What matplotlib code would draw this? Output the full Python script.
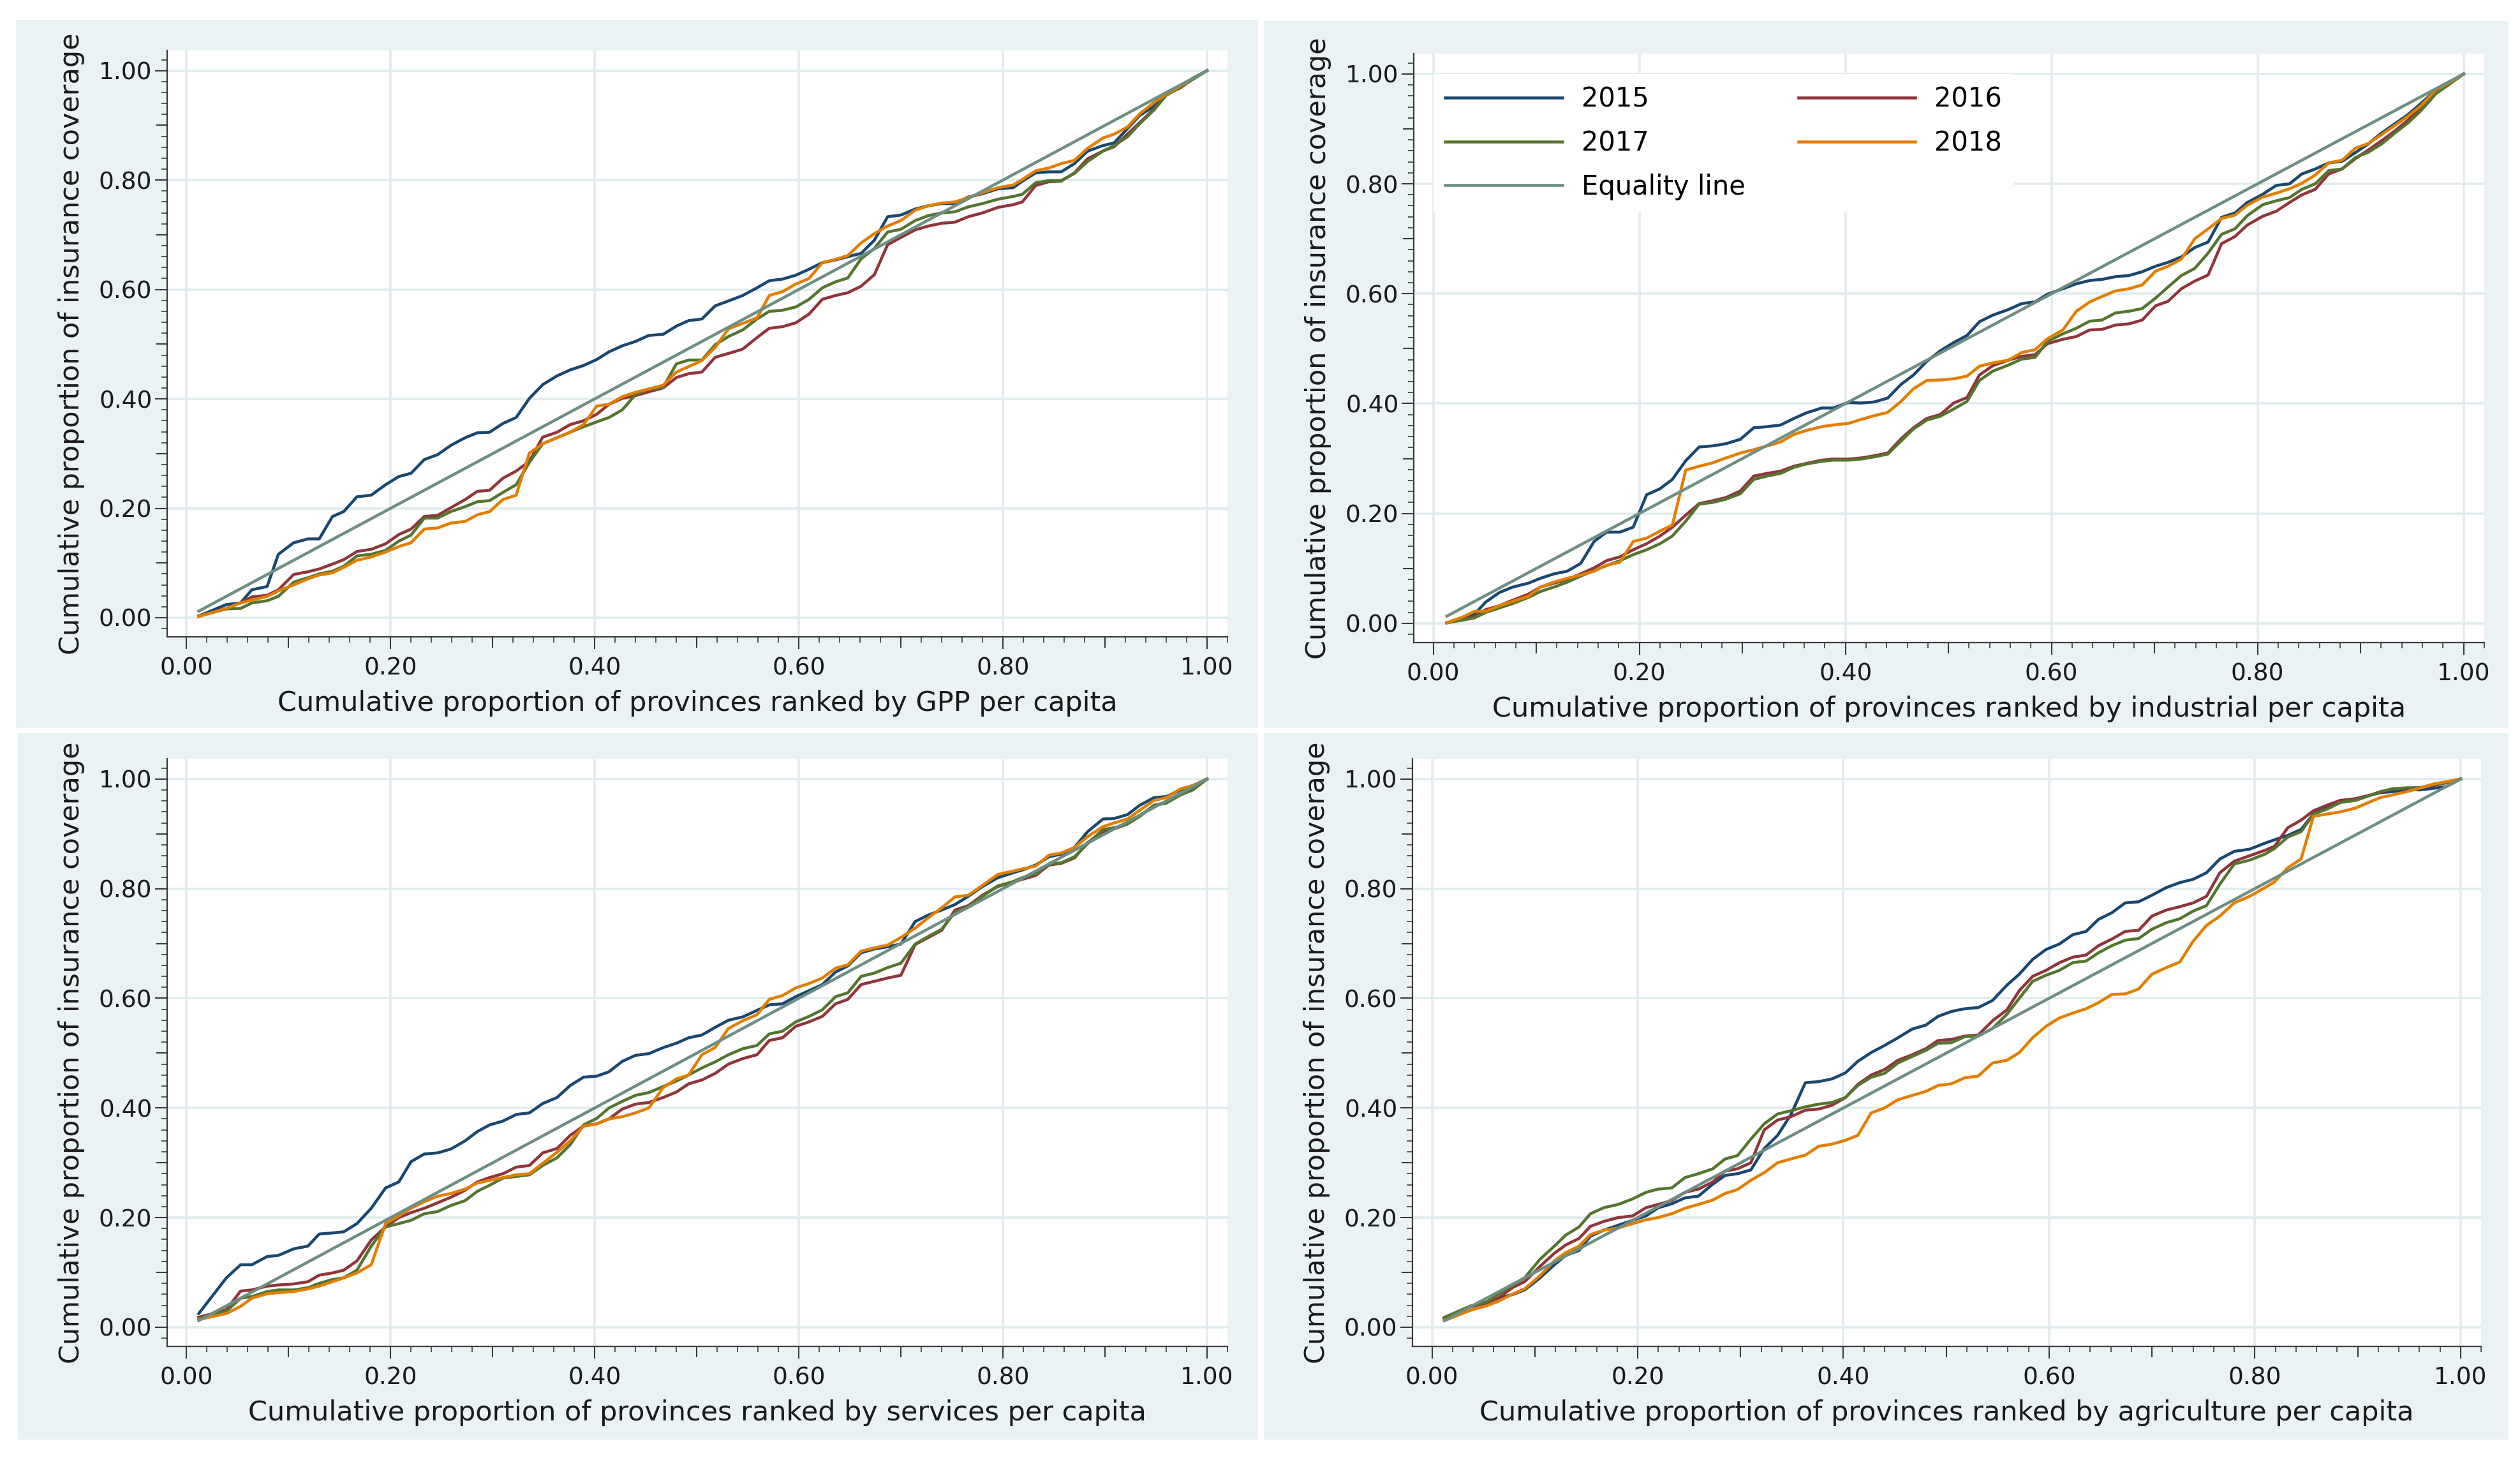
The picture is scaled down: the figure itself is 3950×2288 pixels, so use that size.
import matplotlib

matplotlib.use("Agg")
import matplotlib.pyplot as plt
from matplotlib.patches import Rectangle
from matplotlib.ticker import FormatStrFormatter, MultipleLocator


FIG_W, FIG_H = 3950, 2288
DPI = 100

BG_COLOR = "#EAF2F3"
GRID_COLOR = "#E2ECEE"
AXIS_COLOR = "#3A3A3A"
YEAR_COLORS = ["#1A476F", "#90353B", "#55752F", "#E37E00"]
EQUALITY_COLOR = "#6E8E84"
YEARS = ["2015", "2016", "2017", "2018"]
Y_LABEL = "Cumulative proportion of insurance coverage"

# ranked cumulative share of provinces (GPP, services, agriculture panels)
X_RANK = [0.012, 0.039, 0.053, 0.064, 0.079, 0.090, 0.105, 0.119, 0.130, 0.143, 0.154, 0.167, 0.181, 0.195,
          0.208, 0.220, 0.233, 0.246, 0.259, 0.273, 0.285, 0.297, 0.310, 0.323, 0.336, 0.349, 0.363, 0.376,
          0.389, 0.402, 0.414, 0.427, 0.440, 0.453, 0.467, 0.480, 0.492, 0.505, 0.518, 0.531, 0.545,
          0.559, 0.571, 0.584, 0.597, 0.610, 0.623, 0.636, 0.648, 0.661, 0.674, 0.687, 0.700, 0.714, 0.727,
          0.740, 0.753, 0.766, 0.780, 0.795, 0.810, 0.819, 0.832, 0.845, 0.857, 0.870, 0.883, 0.898, 0.909,
          0.922, 0.934, 0.948, 0.960, 0.974, 0.986, 1.000]

# ranked cumulative share of provinces (industrial panel)
X_RANK_IND = [0.013, 0.029, 0.040, 0.051, 0.064, 0.077, 0.092, 0.104, 0.117, 0.130, 0.143, 0.156, 0.168, 0.181,
              0.194, 0.207, 0.220, 0.232, 0.245, 0.258, 0.271, 0.284, 0.298, 0.311, 0.324, 0.337, 0.350, 0.362,
              0.377, 0.388, 0.403, 0.415, 0.428, 0.441,
              0.454, 0.466, 0.479, 0.492, 0.505, 0.518, 0.530, 0.543, 0.558, 0.571, 0.584, 0.596, 0.611, 0.624,
              0.637, 0.649, 0.662, 0.675, 0.688, 0.701, 0.713, 0.726, 0.739, 0.752, 0.765, 0.778, 0.790, 0.805,
              0.818, 0.831, 0.843, 0.856, 0.869, 0.882, 0.895, 0.907, 0.920, 0.933, 0.946, 0.959, 0.973, 0.986,
              1.000]

GPP_2015 = [0.003, 0.024, 0.027, 0.051, 0.057, 0.116, 0.137, 0.144, 0.144, 0.185, 0.194, 0.221, 0.224, 0.243,
            0.258, 0.264, 0.289, 0.298, 0.315, 0.329, 0.338, 0.339, 0.355, 0.366, 0.401, 0.426, 0.442, 0.453,
            0.461, 0.472, 0.486, 0.497, 0.505, 0.516, 0.518, 0.533, 0.543, 0.546, 0.570, 0.579, 0.589,
            0.603, 0.616, 0.619, 0.626, 0.637, 0.649, 0.654, 0.660, 0.666, 0.690, 0.733, 0.736, 0.747, 0.753,
            0.757, 0.757, 0.769, 0.775, 0.784, 0.786, 0.798, 0.813, 0.815, 0.815, 0.830, 0.853, 0.863, 0.868,
            0.894, 0.918, 0.935, 0.957, 0.969, 0.986, 1.000]
GPP_2016 = [0.003, 0.017, 0.027, 0.038, 0.041, 0.051, 0.079, 0.084, 0.089, 0.098, 0.106, 0.121, 0.125, 0.135,
            0.152, 0.162, 0.185, 0.187, 0.201, 0.216, 0.231, 0.233, 0.255, 0.268, 0.286, 0.330, 0.339, 0.353,
            0.360, 0.372, 0.390, 0.401, 0.406, 0.413, 0.420, 0.439, 0.446, 0.449, 0.476, 0.483, 0.491,
            0.512, 0.529, 0.532, 0.539, 0.555, 0.582, 0.589, 0.594, 0.606, 0.627, 0.682, 0.695, 0.709, 0.716,
            0.721, 0.723, 0.733, 0.740, 0.750, 0.755, 0.760, 0.790, 0.797, 0.798, 0.813, 0.839, 0.853, 0.861,
            0.884, 0.905, 0.930, 0.957, 0.969, 0.985, 1.000]
GPP_2017 = [0.003, 0.016, 0.017, 0.027, 0.031, 0.039, 0.065, 0.073, 0.080, 0.085, 0.094, 0.113, 0.116, 0.123,
            0.140, 0.151, 0.182, 0.182, 0.194, 0.203, 0.212, 0.214, 0.229, 0.243, 0.284, 0.318, 0.329, 0.339,
            0.349, 0.358, 0.366, 0.380, 0.408, 0.418, 0.421, 0.464, 0.471, 0.471, 0.499, 0.514, 0.526,
            0.546, 0.560, 0.562, 0.568, 0.582, 0.603, 0.614, 0.621, 0.656, 0.675, 0.705, 0.710, 0.726, 0.735,
            0.740, 0.742, 0.751, 0.757, 0.765, 0.770, 0.774, 0.795, 0.799, 0.799, 0.812, 0.834, 0.853, 0.863,
            0.879, 0.903, 0.928, 0.955, 0.970, 0.984, 1.000]
GPP_2018 = [0.002, 0.017, 0.027, 0.032, 0.039, 0.049, 0.060, 0.071, 0.078, 0.082, 0.092, 0.105, 0.111, 0.120,
            0.130, 0.137, 0.162, 0.164, 0.173, 0.176, 0.188, 0.194, 0.216, 0.224, 0.301, 0.318, 0.329, 0.339,
            0.353, 0.387, 0.390, 0.404, 0.412, 0.418, 0.425, 0.449, 0.459, 0.470, 0.494, 0.528, 0.538,
            0.548, 0.589, 0.596, 0.610, 0.620, 0.649, 0.655, 0.662, 0.685, 0.702, 0.716, 0.726, 0.745, 0.753,
            0.758, 0.760, 0.768, 0.777, 0.786, 0.791, 0.801, 0.817, 0.822, 0.830, 0.836, 0.858, 0.877, 0.884,
            0.897, 0.921, 0.942, 0.957, 0.972, 0.986, 1.000]

IND_2015 = [0.001, 0.008, 0.017, 0.039, 0.056, 0.066, 0.073, 0.082, 0.090, 0.095, 0.109, 0.149, 0.166, 0.166,
            0.175, 0.234, 0.245, 0.262, 0.296, 0.321, 0.323, 0.327, 0.335, 0.356, 0.358, 0.361, 0.373, 0.383,
            0.392, 0.392, 0.402, 0.401, 0.403, 0.410,
            0.435, 0.452, 0.477, 0.496, 0.511, 0.524, 0.549, 0.561, 0.571, 0.582, 0.585, 0.599, 0.609, 0.618,
            0.624, 0.626, 0.631, 0.633, 0.640, 0.650, 0.657, 0.667, 0.684, 0.694, 0.739, 0.747, 0.766, 0.781,
            0.797, 0.800, 0.818, 0.827, 0.838, 0.841, 0.857, 0.872, 0.892, 0.909, 0.926, 0.947, 0.971, 0.984,
            1.000]
IND_2016 = [0.001, 0.008, 0.012, 0.025, 0.032, 0.042, 0.053, 0.066, 0.073, 0.080, 0.090, 0.101, 0.114, 0.121,
            0.134, 0.145, 0.159, 0.175, 0.197, 0.218, 0.223, 0.229, 0.241, 0.268, 0.273, 0.277, 0.286, 0.291,
            0.297, 0.299, 0.299, 0.301, 0.305, 0.310,
            0.336, 0.356, 0.373, 0.380, 0.401, 0.411, 0.452, 0.469, 0.479, 0.486, 0.489, 0.509, 0.517, 0.522,
            0.534, 0.535, 0.543, 0.545, 0.552, 0.578, 0.586, 0.609, 0.623, 0.634, 0.691, 0.704, 0.725, 0.741,
            0.750, 0.766, 0.780, 0.790, 0.818, 0.827, 0.846, 0.861, 0.878, 0.896, 0.916, 0.940, 0.967, 0.982,
            1.000]
IND_2017 = [0.001, 0.006, 0.010, 0.020, 0.028, 0.036, 0.047, 0.058, 0.066, 0.075, 0.086, 0.096, 0.105, 0.114,
            0.125, 0.134, 0.145, 0.159, 0.186, 0.217, 0.220, 0.226, 0.236, 0.262, 0.268, 0.273, 0.284, 0.290,
            0.295, 0.297, 0.297, 0.299, 0.303, 0.308,
            0.332, 0.354, 0.370, 0.377, 0.390, 0.404, 0.442, 0.459, 0.470, 0.481, 0.484, 0.513, 0.527, 0.537,
            0.550, 0.552, 0.565, 0.568, 0.573, 0.592, 0.612, 0.633, 0.646, 0.674, 0.708, 0.718, 0.742, 0.762,
            0.769, 0.775, 0.790, 0.800, 0.824, 0.827, 0.848, 0.857, 0.872, 0.892, 0.911, 0.934, 0.964, 0.981,
            1.000]
IND_2018 = [0.001, 0.012, 0.022, 0.022, 0.032, 0.040, 0.049, 0.066, 0.075, 0.082, 0.088, 0.095, 0.106, 0.111,
            0.149, 0.155, 0.168, 0.179, 0.279, 0.286, 0.292, 0.301, 0.310, 0.316, 0.323, 0.330, 0.344, 0.351,
            0.358, 0.361, 0.364, 0.371, 0.378, 0.384,
            0.404, 0.427, 0.442, 0.443, 0.445, 0.450, 0.468, 0.474, 0.479, 0.493, 0.498, 0.518, 0.534, 0.568,
            0.585, 0.595, 0.605, 0.609, 0.616, 0.641, 0.650, 0.663, 0.700, 0.718, 0.737, 0.743, 0.761, 0.776,
            0.783, 0.791, 0.801, 0.816, 0.838, 0.843, 0.865, 0.873, 0.889, 0.906, 0.923, 0.943, 0.971, 0.984,
            1.000]

SRV_2015 = [0.025, 0.090, 0.114, 0.114, 0.129, 0.131, 0.143, 0.148, 0.170, 0.172, 0.174, 0.189, 0.217, 0.254,
            0.265, 0.302, 0.316, 0.318, 0.325, 0.340, 0.357, 0.369, 0.376, 0.388, 0.391, 0.408, 0.419, 0.441,
            0.456, 0.458, 0.466, 0.485, 0.496, 0.499, 0.510, 0.518, 0.528, 0.533, 0.547, 0.560, 0.566,
            0.578, 0.588, 0.590, 0.603, 0.614, 0.625, 0.648, 0.659, 0.683, 0.690, 0.694, 0.699, 0.740, 0.752,
            0.761, 0.771, 0.786, 0.804, 0.820, 0.829, 0.834, 0.843, 0.858, 0.863, 0.875, 0.904, 0.927, 0.928,
            0.935, 0.952, 0.966, 0.968, 0.980, 0.988, 1.000]
SRV_2016 = [0.018, 0.032, 0.066, 0.068, 0.075, 0.077, 0.079, 0.083, 0.095, 0.099, 0.104, 0.121, 0.159, 0.183,
            0.200, 0.209, 0.217, 0.227, 0.237, 0.250, 0.265, 0.273, 0.280, 0.292, 0.295, 0.318, 0.326, 0.350,
            0.367, 0.371, 0.380, 0.398, 0.407, 0.410, 0.419, 0.429, 0.444, 0.451, 0.463, 0.480, 0.490,
            0.497, 0.523, 0.528, 0.549, 0.557, 0.567, 0.590, 0.598, 0.625, 0.631, 0.637, 0.642, 0.698, 0.711,
            0.724, 0.761, 0.769, 0.788, 0.804, 0.812, 0.817, 0.824, 0.843, 0.846, 0.856, 0.884, 0.904, 0.909,
            0.918, 0.932, 0.952, 0.957, 0.973, 0.982, 1.000]
SRV_2017 = [0.015, 0.029, 0.053, 0.056, 0.065, 0.068, 0.068, 0.072, 0.080, 0.087, 0.090, 0.104, 0.148, 0.183,
            0.189, 0.195, 0.207, 0.211, 0.222, 0.231, 0.248, 0.259, 0.272, 0.275, 0.278, 0.295, 0.309, 0.333,
            0.369, 0.381, 0.400, 0.412, 0.423, 0.428, 0.439, 0.449, 0.460, 0.473, 0.484, 0.497, 0.508,
            0.514, 0.535, 0.540, 0.557, 0.567, 0.579, 0.603, 0.610, 0.640, 0.646, 0.656, 0.664, 0.699, 0.713,
            0.726, 0.757, 0.767, 0.786, 0.805, 0.813, 0.820, 0.827, 0.845, 0.847, 0.858, 0.882, 0.908, 0.911,
            0.918, 0.932, 0.952, 0.956, 0.971, 0.980, 1.000]
SRV_2018 = [0.014, 0.025, 0.038, 0.053, 0.061, 0.063, 0.065, 0.070, 0.075, 0.083, 0.090, 0.099, 0.114, 0.189,
            0.203, 0.217, 0.229, 0.239, 0.244, 0.252, 0.263, 0.268, 0.273, 0.278, 0.280, 0.299, 0.319, 0.340,
            0.367, 0.371, 0.380, 0.384, 0.391, 0.400, 0.437, 0.453, 0.460, 0.497, 0.510, 0.545, 0.559,
            0.570, 0.598, 0.605, 0.619, 0.627, 0.637, 0.655, 0.661, 0.686, 0.692, 0.697, 0.711, 0.728, 0.747,
            0.765, 0.785, 0.788, 0.806, 0.826, 0.832, 0.836, 0.841, 0.861, 0.865, 0.875, 0.895, 0.913, 0.920,
            0.927, 0.943, 0.961, 0.966, 0.982, 0.988, 1.000]

AGR_2015 = [0.015, 0.039, 0.046, 0.053, 0.060, 0.068, 0.090, 0.114, 0.131, 0.140, 0.166, 0.177, 0.186, 0.195,
            0.203, 0.218, 0.225, 0.236, 0.239, 0.261, 0.277, 0.280, 0.287, 0.326, 0.350, 0.388, 0.446, 0.448,
            0.453, 0.464, 0.485, 0.501, 0.514, 0.528, 0.544, 0.551, 0.567, 0.576, 0.581, 0.583, 0.596,
            0.624, 0.644, 0.671, 0.689, 0.699, 0.716, 0.722, 0.744, 0.756, 0.774, 0.776, 0.788, 0.802, 0.811,
            0.817, 0.829, 0.854, 0.868, 0.872, 0.883, 0.889, 0.897, 0.908, 0.936, 0.949, 0.959, 0.964, 0.969,
            0.975, 0.977, 0.981, 0.980, 0.983, 0.986, 1.000]
AGR_2016 = [0.017, 0.038, 0.044, 0.053, 0.073, 0.083, 0.111, 0.135, 0.150, 0.162, 0.184, 0.193, 0.200, 0.203,
            0.218, 0.224, 0.231, 0.246, 0.252, 0.265, 0.285, 0.289, 0.300, 0.360, 0.378, 0.384, 0.396, 0.398,
            0.405, 0.419, 0.443, 0.460, 0.470, 0.487, 0.497, 0.508, 0.523, 0.525, 0.531, 0.533, 0.559,
            0.579, 0.614, 0.640, 0.651, 0.665, 0.675, 0.679, 0.696, 0.708, 0.722, 0.724, 0.750, 0.761, 0.767,
            0.774, 0.786, 0.829, 0.850, 0.860, 0.870, 0.877, 0.911, 0.925, 0.942, 0.952, 0.961, 0.964, 0.969,
            0.976, 0.982, 0.983, 0.984, 0.988, 0.993, 1.000]
AGR_2017 = [0.018, 0.040, 0.046, 0.060, 0.077, 0.090, 0.124, 0.148, 0.168, 0.183, 0.207, 0.218, 0.224, 0.234,
            0.246, 0.252, 0.254, 0.273, 0.280, 0.289, 0.307, 0.313, 0.343, 0.371, 0.389, 0.395, 0.402, 0.407,
            0.410, 0.419, 0.441, 0.456, 0.463, 0.482, 0.494, 0.505, 0.518, 0.519, 0.530, 0.531, 0.545,
            0.571, 0.600, 0.631, 0.642, 0.651, 0.665, 0.668, 0.683, 0.696, 0.706, 0.709, 0.726, 0.738, 0.745,
            0.759, 0.769, 0.808, 0.845, 0.852, 0.863, 0.873, 0.894, 0.904, 0.936, 0.945, 0.957, 0.961, 0.968,
            0.977, 0.982, 0.984, 0.984, 0.990, 0.993, 1.000]
AGR_2018 = [0.012, 0.032, 0.039, 0.047, 0.061, 0.070, 0.094, 0.121, 0.136, 0.148, 0.169, 0.177, 0.181, 0.189,
            0.196, 0.200, 0.207, 0.217, 0.224, 0.232, 0.244, 0.251, 0.268, 0.282, 0.300, 0.307, 0.314, 0.330,
            0.334, 0.341, 0.350, 0.391, 0.400, 0.415, 0.423, 0.430, 0.441, 0.444, 0.455, 0.458, 0.482,
            0.487, 0.501, 0.528, 0.549, 0.564, 0.573, 0.581, 0.592, 0.607, 0.608, 0.617, 0.644, 0.656, 0.666,
            0.704, 0.733, 0.750, 0.774, 0.786, 0.802, 0.812, 0.838, 0.854, 0.932, 0.936, 0.940, 0.947, 0.956,
            0.966, 0.971, 0.977, 0.983, 0.991, 0.995, 1.000]

MAJOR_TICKS = [0.0, 0.2, 0.4, 0.6, 0.8, 1.0]
MID_TICKS = [0.1, 0.3, 0.5, 0.7, 0.9]
XLIM = (-0.019, 1.02)
YLIM = (-0.035, 1.037)

# pixel boxes: (left, top, right, bottom)
PANELS = [
    {
        "axes": (262, 79, 1924, 998),
        "bg": (25, 31, 1972, 1141),
        "xlabel": "Cumulative proportion of provinces ranked by GPP per capita",
        "x": X_RANK,
        "series": [GPP_2015, GPP_2016, GPP_2017, GPP_2018],
        "legend": False,
    },
    {
        "axes": (2216, 84, 3894, 1007),
        "bg": (1981, 33, 3932, 1141),
        "xlabel": "Cumulative proportion of provinces ranked by industrial per capita",
        "x": X_RANK_IND,
        "series": [IND_2015, IND_2016, IND_2017, IND_2018],
        "legend": True,
    },
    {
        "axes": (262, 1189, 1924, 2110),
        "bg": (28, 1149, 1972, 2256),
        "xlabel": "Cumulative proportion of provinces ranked by services per capita",
        "x": X_RANK,
        "series": [SRV_2015, SRV_2016, SRV_2017, SRV_2018],
        "legend": False,
    },
    {
        "axes": (2214, 1189, 3889, 2110),
        "bg": (1981, 1149, 3932, 2256),
        "xlabel": "Cumulative proportion of provinces ranked by agriculture per capita",
        "x": X_RANK,
        "series": [AGR_2015, AGR_2016, AGR_2017, AGR_2018],
        "legend": False,
    },
]


def px_rect(box):
    left, top, right, bottom = box
    return [left / FIG_W, 1 - bottom / FIG_H, (right - left) / FIG_W, (bottom - top) / FIG_H]


def style_axes(ax):
    ax.set_xlim(*XLIM)
    ax.set_ylim(*YLIM)
    ax.set_facecolor("white")
    for side in ("top", "right"):
        ax.spines[side].set_visible(False)
    for side in ("left", "bottom"):
        ax.spines[side].set_color(AXIS_COLOR)
        ax.spines[side].set_linewidth(1.6)
    ax.set_xticks(MAJOR_TICKS)
    ax.set_yticks(MAJOR_TICKS)
    ax.xaxis.set_major_formatter(FormatStrFormatter("%.2f"))
    ax.yaxis.set_major_formatter(FormatStrFormatter("%.2f"))
    ax.xaxis.set_minor_locator(MultipleLocator(0.02))
    ax.yaxis.set_minor_locator(MultipleLocator(0.02))
    ax.tick_params(which="major", direction="out", length=14, width=1.5, color=AXIS_COLOR,
                   labelsize=27, labelcolor="#1A1A1A")
    ax.tick_params(axis="x", which="major", pad=9)
    ax.tick_params(axis="y", which="major", pad=3)
    ax.tick_params(which="minor", direction="out", length=6.5, width=1.2, color=AXIS_COLOR)
    ax.grid(which="major", color=GRID_COLOR, linewidth=2.6)
    ax.set_axisbelow(True)

    sec_x = ax.secondary_xaxis("bottom")
    sec_x.set_xticks(MID_TICKS)
    sec_x.tick_params(length=12, width=1.5, color=AXIS_COLOR, labelbottom=False)
    sec_y = ax.secondary_yaxis("left")
    sec_y.set_yticks(MID_TICKS)
    sec_y.tick_params(length=12, width=1.5, color=AXIS_COLOR, labelleft=False)
    for sec in (sec_x, sec_y):
        for spine in sec.spines.values():
            spine.set_visible(False)


def draw_panel(fig, panel):
    left, top, right, bottom = panel["bg"]
    fig.patches.append(
        Rectangle((left / FIG_W, 1 - bottom / FIG_H), (right - left) / FIG_W, (bottom - top) / FIG_H,
                  transform=fig.transFigure, facecolor=BG_COLOR, edgecolor="none", zorder=-10)
    )
    ax = fig.add_axes(px_rect(panel["axes"]))
    ax.set_zorder(1)
    style_axes(ax)

    x = panel["x"]
    handles = []
    for year, color, values in zip(YEARS, YEAR_COLORS, panel["series"]):
        (line,) = ax.plot(x, values, color=color, linewidth=3.3, label=year, solid_joinstyle="round", zorder=3)
        handles.append(line)
    (eq_line,) = ax.plot(x, x, color=EQUALITY_COLOR, linewidth=3.3, label="Equality line", zorder=3)
    handles.append(eq_line)

    ax.set_xlabel(panel["xlabel"], fontsize=31, labelpad=11, color="#1A1A1A")
    ax.set_ylabel(Y_LABEL, fontsize=31, labelpad=16, color="#1A1A1A")

    if panel["legend"]:
        # legend fills column by column; order so rows read 2015 2016 / 2017 2018 / Equality line
        order = [0, 2, 4, 1, 3]
        ax.legend(
            [handles[i] for i in order],
            [handles[i].get_label() for i in order],
            loc="upper left",
            bbox_to_anchor=(0.0, 1.0),
            bbox_transform=ax.transData,
            ncol=2,
            fontsize=30,
            frameon=True,
            facecolor="white",
            edgecolor="none",
            framealpha=1.0,
            fancybox=False,
            handlelength=4.4,
            handletextpad=0.72,
            columnspacing=2.0,
            labelspacing=0.64,
            borderpad=0.45,
            borderaxespad=0.0,
        )
    return ax


def main():
    plt.rcParams["font.family"] = ["DejaVu Sans"]
    fig = plt.figure(figsize=(FIG_W / DPI, FIG_H / DPI), dpi=DPI, facecolor="white")
    for panel in PANELS:
        draw_panel(fig, panel)
    fig.savefig("out.png", dpi=DPI, facecolor="white")
    plt.close(fig)


if __name__ == "__main__":
    main()
